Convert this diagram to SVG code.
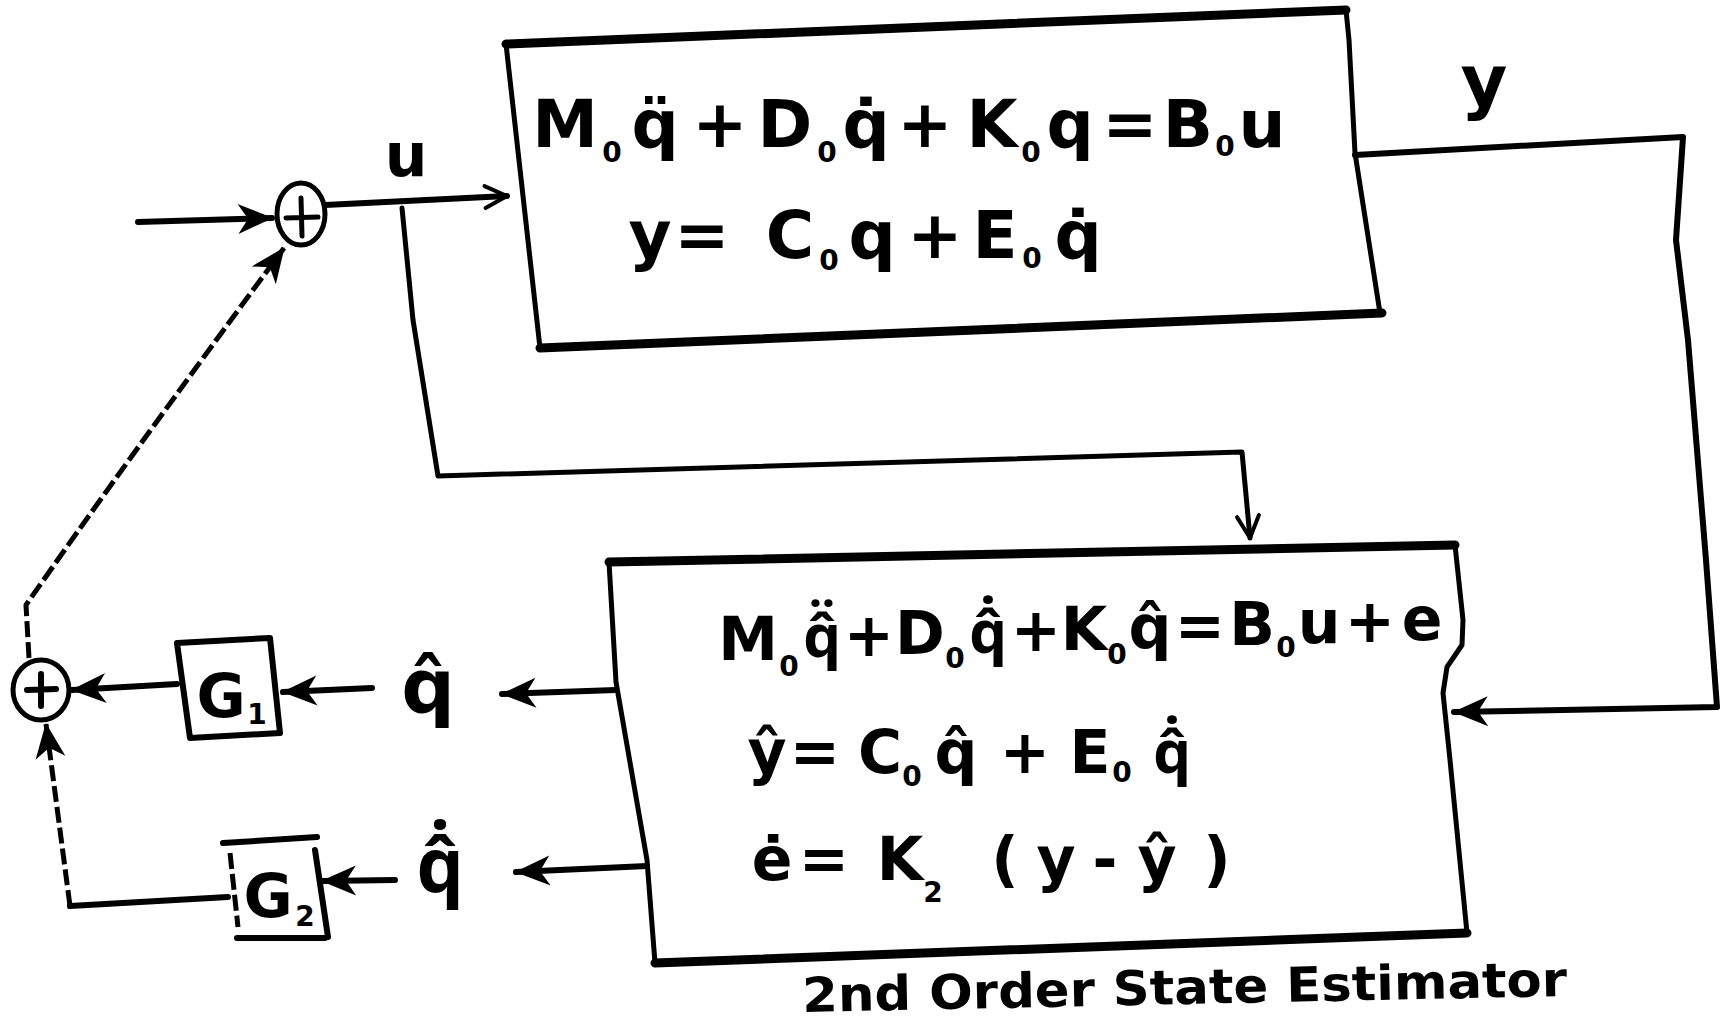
<svg xmlns="http://www.w3.org/2000/svg" width="1727" height="1028" viewBox="0 0 1727 1028">
<style>
.ln{fill:none;stroke:#000;stroke-width:6;stroke-linecap:round;stroke-linejoin:round}
.dash{fill:none;stroke:#000;stroke-width:5;stroke-linecap:butt;stroke-linejoin:round;stroke-dasharray:16 5}
.thick{fill:none;stroke:#000;stroke-width:9;stroke-linecap:round;stroke-linejoin:round}
.thin{fill:none;stroke:#000;stroke-width:5;stroke-linecap:round;stroke-linejoin:round}
.eq{font-family:"DejaVu Sans","Liberation Sans",sans-serif;font-weight:bold;fill:#000;text-anchor:middle}
.nt{font-family:"Noto Sans","DejaVu Sans",sans-serif}
.big{font-size:66px}
.mid{font-size:60px}
.lab{font-size:60px}
.lq{font-size:75px}
.sub{font-size:28px}
</style>
<defs>
<marker id="arr" markerUnits="userSpaceOnUse" markerWidth="40" markerHeight="34" refX="35" refY="16" orient="auto">
<path d="M1,1 L36,16 L1,31 L11,16 Z" fill="#000"/>
</marker>
<marker id="open" markerUnits="userSpaceOnUse" markerWidth="30" markerHeight="30" refX="26" refY="15" orient="auto">
<path d="M4,4 L26,15 L4,26" fill="none" stroke="#000" stroke-width="4" stroke-linecap="round" stroke-linejoin="round"/>
</marker>
</defs>
<rect width="1727" height="1028" fill="#fff"/>

<g id="connectors">
<path class="ln" d="M138,222 L272,218" marker-end="url(#arr)"/>
<path class="ln" d="M325,205 L507,196" marker-end="url(#open)"/>
<path class="thin" d="M402,208 L413,320 L438,476 L1242,452 L1250,538" marker-end="url(#open)"/>
<path class="ln" d="M1355,155 L1683,137 L1676,240 L1688,340 L1706,560 L1717,707 L1454,712" marker-end="url(#arr)"/>
<path class="ln" d="M616,690 L502,694" marker-end="url(#arr)"/>
<path class="ln" d="M647,866 L516,872" marker-end="url(#arr)"/>
<path class="ln" d="M372,688 L283,692" marker-end="url(#arr)"/>
<path class="ln" d="M177,684 L72,690" marker-end="url(#arr)"/>
<path class="ln" d="M395,880 L322,881" marker-end="url(#arr)"/>
<path class="ln" d="M228,897 L70,906"/>
<path class="dash" d="M70,906 L46,724" marker-end="url(#arr)"/>
<path class="dash" d="M29,658 L26,605 Q120,470 284,248" marker-end="url(#arr)"/>
</g>

<g id="sum1">
<ellipse cx="301" cy="214" rx="24" ry="31" class="thin"/>
<path class="thin" d="M301,198 L302,236 M286,218 L318,217"/>
</g>

<g id="sum2">
<ellipse cx="41" cy="690" rx="28" ry="30" class="thin"/>
<path class="ln" d="M41,674 L41,706 M27,690 L56,689"/>
</g>

<g id="plant">
<path class="thick" d="M506,44 L1346,10"/>
<path class="thin" d="M506,44 L540,348"/>
<path class="thin" d="M1346,10 L1349,40 L1355,153 L1380,313"/>
<path class="thick" d="M540,348 L1382,313"/>
<g class="eq big">
<text x="565" y="147">M</text>
<text x="655" y="147">q&#x308;</text>
<text x="720" y="147">+</text>
<text x="785" y="147">D</text>
<text x="866" y="147">q&#x307;</text>
<text x="925" y="147">+</text>
<text x="992" y="147">K</text>
<text x="1070" y="147">q</text>
<text x="1130" y="147">=</text>
<text x="1188" y="147">B</text>
<text x="1262" y="147">u</text>
<text x="650" y="258">y</text>
<text x="702" y="258">=</text>
<text x="790" y="258">C</text>
<text x="872" y="258">q</text>
<text x="935" y="258">+</text>
<text x="995" y="258">E</text>
<text x="1078" y="258">q&#x307;</text>
</g>
<g class="eq sub">
<text x="612" y="162">0</text>
<text x="827" y="162">0</text>
<text x="1031" y="162">0</text>
<text x="1225" y="156">0</text>
<text x="829" y="270">0</text>
<text x="1032" y="268">0</text>
</g>
</g>

<g id="estimator">
<path class="thick" d="M609,562 L1455,545"/>
<path class="thin" d="M1455,545 L1463,620 L1462,645 L1447,667 L1443,693 L1450,760 L1467,933"/>
<path class="thick" d="M1467,933 L655,963"/>
<path class="thin" d="M655,963 L647,860 L616,682 L609,562"/>
<g class="eq mid">
<text x="748" y="660">M</text>
<text class="nt" x="822" y="657">q&#x302;&#x308;</text>
<text x="869" y="656">+</text>
<text x="920" y="654">D</text>
<text class="nt" x="988" y="653">q&#x302;&#x307;</text>
<text x="1036" y="651">+</text>
<text x="1084" y="650">K</text>
<text x="1150" y="648">q&#x302;</text>
<text x="1200" y="647">=</text>
<text x="1252" y="645">B</text>
<text x="1319" y="643">u</text>
<text x="1370" y="642">+</text>
<text x="1422" y="640">e</text>
<text x="767" y="773">y&#x302;</text>
<text x="815" y="773">=</text>
<text x="880" y="773">C</text>
<text x="956" y="773">q&#x302;</text>
<text x="1025" y="773">+</text>
<text x="1090" y="773">E</text>
<text class="nt" x="1172" y="773">q&#x302;&#x307;</text>
<text x="772" y="880">e&#x307;</text>
<text x="824" y="880">=</text>
<text x="900" y="880">K</text>
<text x="1005" y="880">(</text>
<text x="1056" y="880">y</text>
<text x="1105" y="880">-</text>
<text x="1157" y="880">y&#x302;</text>
<text x="1217" y="880">)</text>
</g>
<g class="eq sub">
<text x="789" y="676">0</text>
<text x="955" y="668">0</text>
<text x="1117" y="664">0</text>
<text x="1286" y="657">0</text>
<text x="912" y="786">0</text>
<text x="1122" y="782">0</text>
<text x="933" y="902">2</text>
</g>
<text class="eq" x="1185" y="1004" font-size="48" textLength="765" lengthAdjust="spacingAndGlyphs" transform="rotate(-1.2 1185 1004)">2nd Order State Estimator</text>
</g>

<g id="label-u"><text class="eq lab" x="406" y="176">u</text></g>
<g id="label-y"><text class="eq" font-size="72" x="1484" y="106">y</text></g>
<g id="label-qhat"><text class="eq lq" x="428" y="712">q&#x302;</text></g>
<g id="label-qhatdot"><text class="eq lq nt" x="440" y="892">q&#x302;&#x307;</text></g>

<g id="G1">
<path class="ln" d="M177,643 L270,638 L280,733 L190,738 Z"/>
<text class="eq lab" x="221" y="717">G</text>
<text class="eq sub" x="257" y="724">1</text>
</g>

<g id="G2">
<path class="ln" d="M223,843 L317,837"/>
<path class="dash" d="M230,853 L238,927"/>
<path class="ln" d="M315,850 L328,937"/>
<path class="ln" d="M237,938 L325,938"/>
<text class="eq lab" x="268" y="917">G</text>
<text class="eq sub" x="305" y="926">2</text>
</g>
</svg>
